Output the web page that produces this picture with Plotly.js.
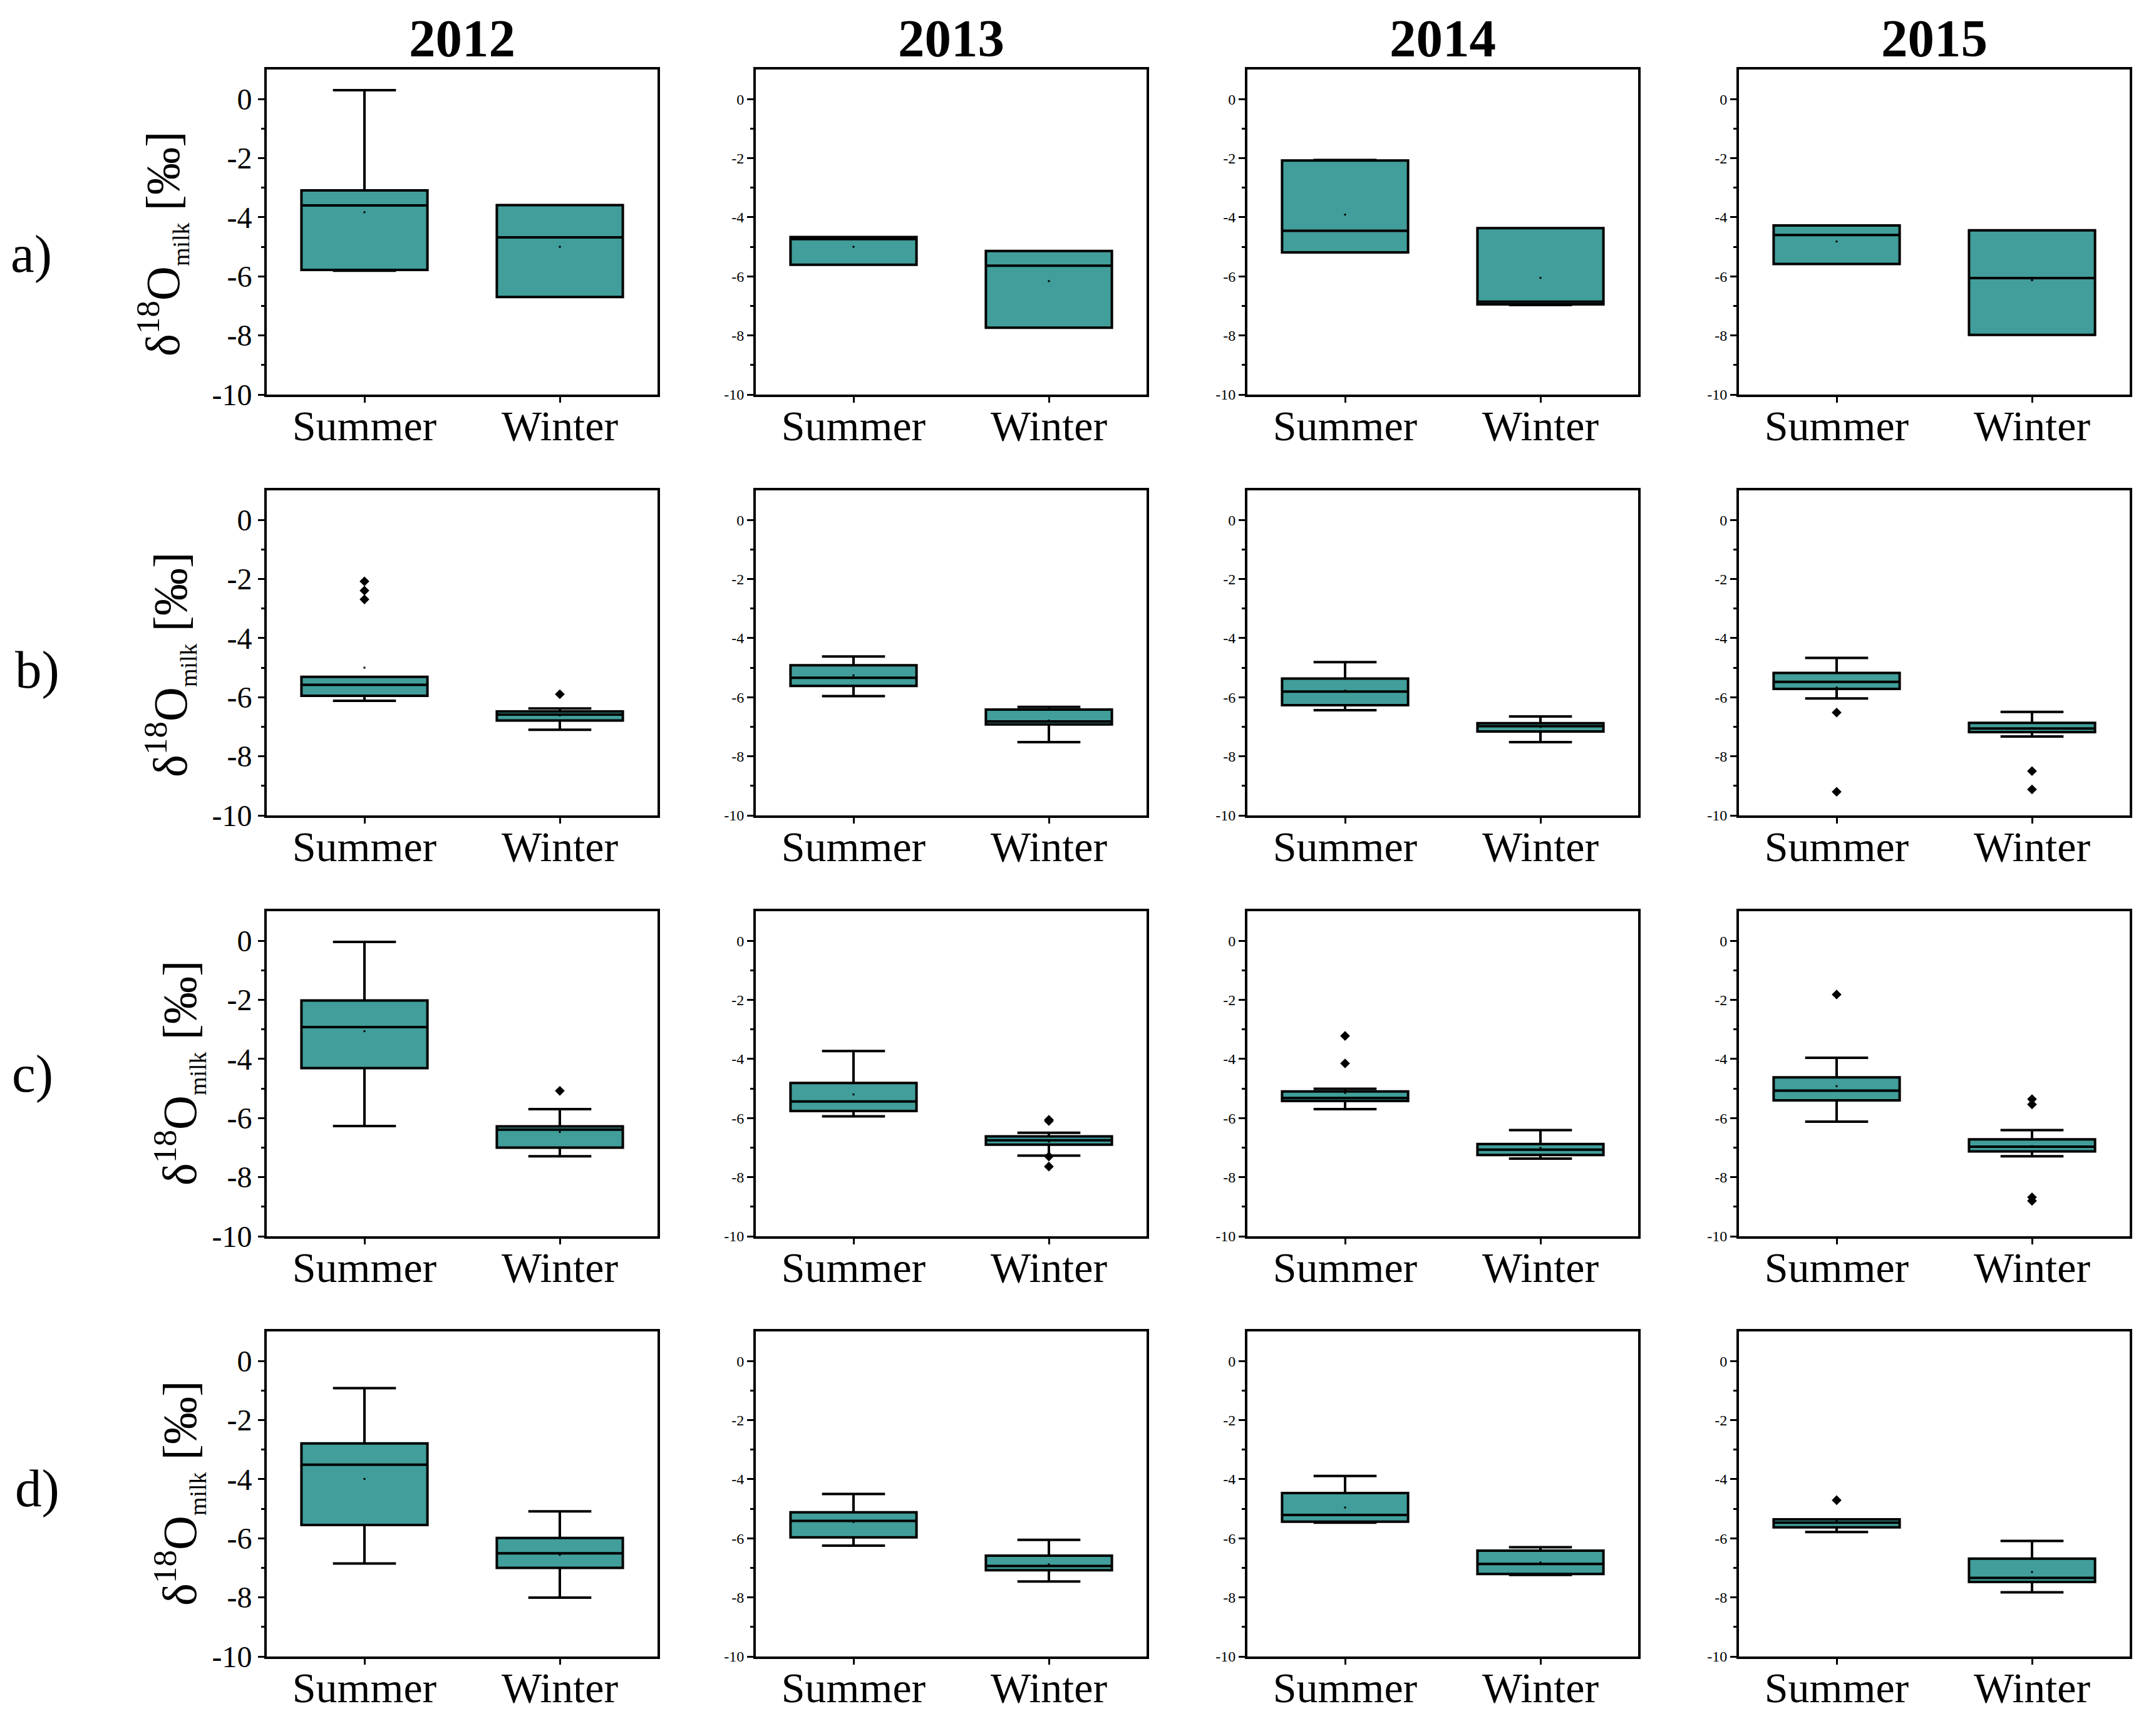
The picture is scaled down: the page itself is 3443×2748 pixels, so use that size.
<!DOCTYPE html>
<html><head><meta charset="utf-8">
<script src="https://cdn.plot.ly/plotly-3.0.1.min.js"></script>
<style>html,body{margin:0;padding:0;background:#fff}</style>
</head><body><div id="chart" style="width:3443px;height:2748px"></div>
<script>
// ---------------- DATA ----------------
const years = ['2012', '2013', '2014', '2015'];
const rowLabels = ['a)', 'b)', 'c)', 'd)'];
const seasons = ['Summer', 'Winter'];
const yTickVals = [0, -2, -4, -6, -8, -10];
const yTickText = ['0', '-2', '-4', '-6', '-8', '-10'];
const yMinorVals = [-1, -3, -5, -7, -9];
// each row: [2012 Summer, 2012 Winter, 2013 Summer, 2013 Winter, 2014 Summer, 2014 Winter, 2015 Summer, 2015 Winter]
const upperFence = [
  [0.30, -3.59, -4.67, -5.14, -2.06, -4.37, -4.28, -4.44],
  [-5.31, -6.38, -4.62, -6.33, -4.81, -6.65, -4.67, -6.50],
  [-0.04, -5.70, -3.73, -6.50, -5.01, -6.41, -3.96, -6.41],
  [-0.92, -5.09, -4.50, -6.05, -3.89, -6.30, -5.36, -6.09]
];
const q3 = [
  [-3.09, -3.59, -4.67, -5.14, -2.08, -4.37, -4.28, -4.44],
  [-5.31, -6.48, -4.92, -6.42, -5.37, -6.88, -5.18, -6.87],
  [-2.02, -6.28, -4.81, -6.62, -5.10, -6.88, -4.62, -6.72],
  [-2.79, -5.99, -5.12, -6.59, -4.47, -6.42, -5.36, -6.69]
];
const median = [
  [-3.60, -4.68, -4.74, -5.64, -4.46, -6.86, -4.60, -6.06],
  [-5.58, -6.59, -5.34, -6.82, -5.81, -6.98, -5.48, -7.06],
  [-2.92, -6.39, -5.44, -6.75, -5.32, -7.07, -5.07, -6.97],
  [-3.51, -6.51, -5.41, -6.94, -5.21, -6.87, -5.47, -7.34]
];
const q1 = [
  [-5.78, -6.70, -5.61, -7.74, -5.19, -6.95, -5.58, -7.98],
  [-5.95, -6.79, -5.62, -6.92, -6.27, -7.16, -5.72, -7.18],
  [-4.31, -7.00, -5.76, -6.90, -5.42, -7.25, -5.40, -7.13],
  [-5.55, -7.00, -5.97, -7.08, -5.44, -7.21, -5.63, -7.48]
];
const lowerFence = [
  [-5.81, -6.70, -5.61, -7.74, -5.19, -6.97, -5.58, -7.98],
  [-6.12, -7.10, -5.96, -7.52, -6.44, -7.52, -6.04, -7.33],
  [-6.27, -7.29, -5.94, -7.27, -5.70, -7.37, -6.12, -7.29],
  [-6.85, -8.01, -6.25, -7.46, -5.47, -7.24, -5.79, -7.83]
];
const means = [
  [-3.83, -5.00, -5.00, -6.16, -3.91, -6.05, -4.82, -6.13],
  [-5.00, -6.62, -5.26, -6.79, -5.78, -7.01, -5.67, -7.05],
  [-3.06, -6.47, -5.20, -6.80, -5.15, -7.01, -4.92, -6.95],
  [-3.99, -6.56, -5.45, -6.88, -4.96, -6.82, -5.42, -7.14]
];
const outliers = [
  [[], [], [], [], [], [], [], []],
  [[-2.08, -2.39, -2.69], [-5.90], [], [], [], [], [-6.52, -9.20], [-8.50, -9.12]],
  [[], [-5.08], [], [-6.06, -6.10, -7.30, -7.64], [-3.22, -4.15], [], [-1.82], [-5.36, -5.54, -8.68, -8.80]],
  [[], [], [], [], [], [], [-4.71], []]
];
const yTitle = 'δ<sup>18</sup>O<sub><span style="font-size:38px">milk</span></sub> [‰]';

// ---------------- LAYOUT CONSTANTS ----------------
const W = 3443, H = 2748;
const colLeft = [426, 1207, 1992, 2777], colWidth = 624;
const rowTop = [111, 783, 1455, 2126], rowHeight = 519;
const rowLabelPos = [[50, 405], [60, 1069], [52, 1714], [60, 2376]];
const yTitlePos = [[258, 390], [271, 1062], [285, 1714], [285, 2385]];
const FONT = '"Liberation Serif", "Times New Roman", serif';
const FILL = '#419E9A';

const traces = [];
const layout = {
  width: W, height: H,
  margin: {l: 0, r: 0, t: 0, b: 0},
  paper_bgcolor: '#fff', plot_bgcolor: '#fff',
  showlegend: false,
  font: {family: FONT, color: '#000'},
  annotations: []
};

for (let r = 0; r < 4; r++) {
  for (let c = 0; c < 4; c++) {
    const n = r * 4 + c + 1;
    const sfx = n === 1 ? '' : String(n);
    const xa = 'x' + sfx, ya = 'y' + sfx;
    const i0 = c * 2;
    const pick = arr => [arr[r][i0], arr[r][i0 + 1]];
    traces.push({
      type: 'box', x: seasons,
      q1: pick(q1), median: pick(median), q3: pick(q3),
      lowerfence: pick(lowerFence), upperfence: pick(upperFence),
      xaxis: xa, yaxis: ya,
      fillcolor: FILL, line: {color: '#000', width: 4},
      whiskerwidth: 0.5, width: 0.645, boxpoints: false, hoverinfo: 'skip'
    });
    const ox = [], oy = [];
    for (let s = 0; s < 2; s++) outliers[r][i0 + s].forEach(v => { ox.push(seasons[s]); oy.push(v); });
    if (ox.length) {
      traces.push({
        type: 'scatter', mode: 'markers', x: ox, y: oy, xaxis: xa, yaxis: ya,
        marker: {symbol: 'diamond', size: 12, color: '#000'}, hoverinfo: 'skip'
      });
    }
    traces.push({
      type: 'scatter', mode: 'markers', x: seasons, y: pick(means), xaxis: xa, yaxis: ya,
      marker: {symbol: 'square', size: 3, color: '#000'}, hoverinfo: 'skip'
    });
    layout['xaxis' + sfx] = {
      domain: [colLeft[c] / W, (colLeft[c] + colWidth) / W], anchor: ya,
      type: 'category', categoryorder: 'array', categoryarray: seasons, range: [-0.5, 1.5],
      showline: true, mirror: true, linecolor: '#000', linewidth: 4,
      ticks: 'outside', ticklen: 9, tickwidth: 3, tickcolor: '#000',
      ticklabelstandoff: -22,
      showgrid: false, zeroline: false,
      tickfont: {family: FONT, size: 68, color: '#000'}, fixedrange: true
    };
    layout['yaxis' + sfx] = {
      domain: [1 - (rowTop[r] + rowHeight) / H, 1 - rowTop[r] / H], anchor: xa,
      range: [-10, 1], tickmode: 'array', tickvals: yTickVals, ticktext: yTickText,
      ticks: 'outside', ticklen: 10, tickwidth: 3, tickcolor: '#000',
      minor: {tickmode: 'array', tickvals: yMinorVals, ticks: 'outside', ticklen: 5, tickwidth: 3, tickcolor: '#000', showgrid: false},
      showline: true, mirror: true, linecolor: '#000', linewidth: 4,
      showgrid: false, zeroline: false,
      tickfont: {family: FONT, size: c === 0 ? 48 : 24, color: '#000'}, fixedrange: true
    };
  }
}

years.forEach((yr, c) => {
  layout.annotations.push({
    text: '<b>' + yr + '</b>', xref: 'paper', yref: 'paper',
    x: (colLeft[c] + colWidth / 2) / W, y: 1 - 61 / H,
    xanchor: 'center', yanchor: 'middle', showarrow: false,
    font: {family: FONT, size: 85, color: '#000'}
  });
});
rowLabels.forEach((lab, r) => {
  layout.annotations.push({
    text: lab, xref: 'paper', yref: 'paper',
    x: rowLabelPos[r][0] / W, y: 1 - rowLabelPos[r][1] / H,
    xanchor: 'center', yanchor: 'middle', showarrow: false,
    font: {family: FONT, size: 85, color: '#000'}
  });
  layout.annotations.push({
    text: yTitle, xref: 'paper', yref: 'paper',
    x: yTitlePos[r][0] / W, y: 1 - yTitlePos[r][1] / H,
    xanchor: 'center', yanchor: 'middle', showarrow: false, textangle: -90,
    font: {family: FONT, size: 76, color: '#000'}
  });
});

Plotly.newPlot('chart', traces, layout, {staticPlot: true, displayModeBar: false});
</script></body></html>
